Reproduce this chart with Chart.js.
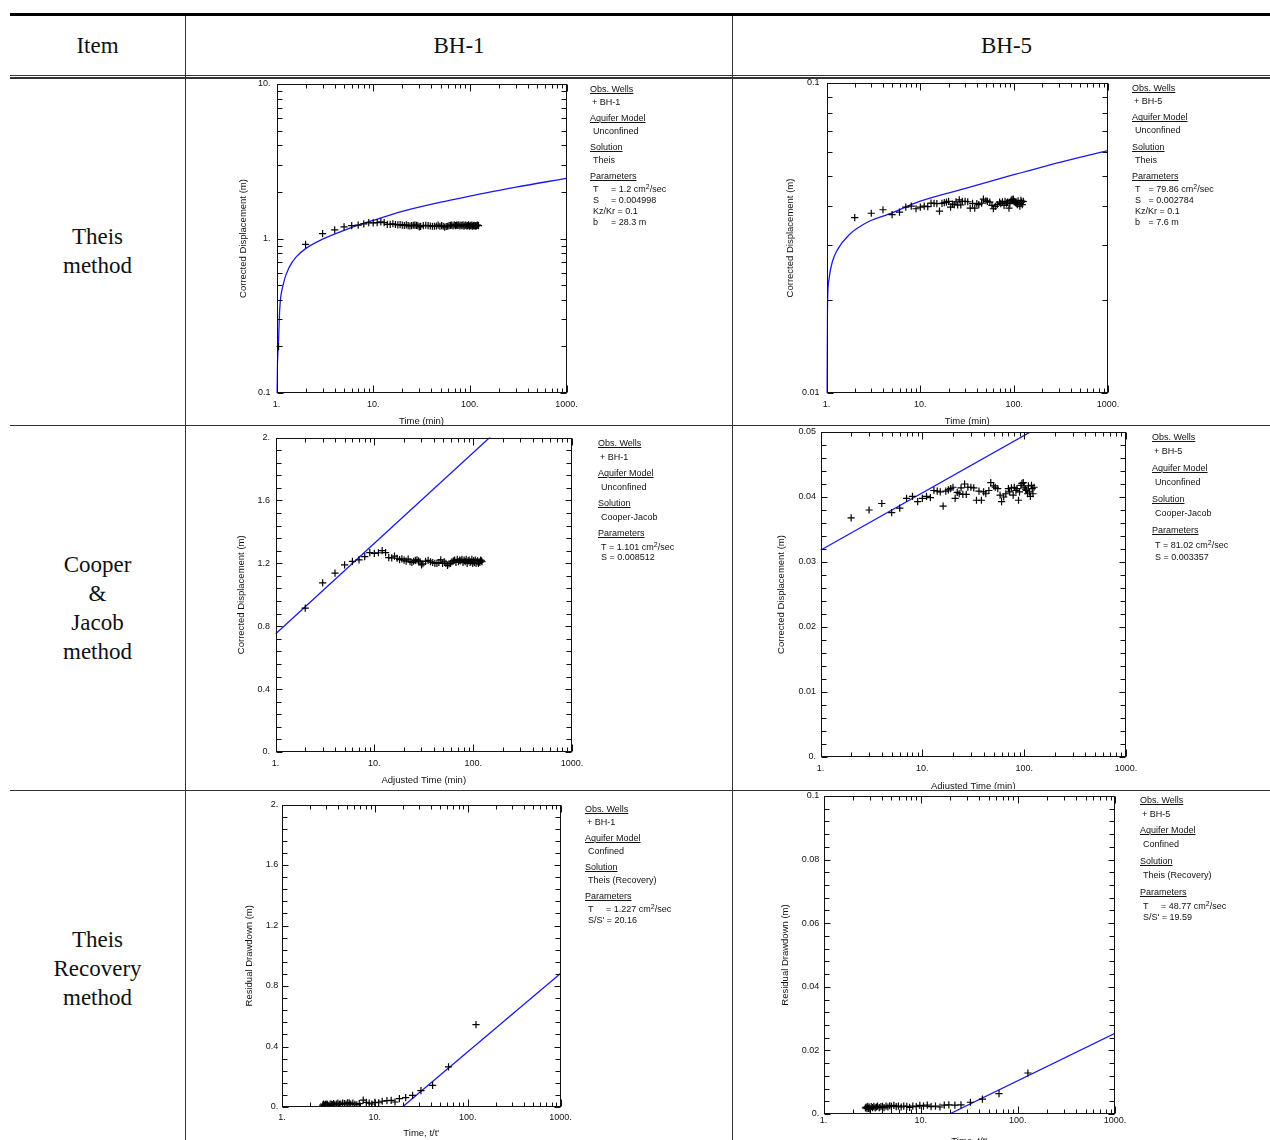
<!DOCTYPE html>
<html>
<head>
<meta charset="utf-8">
<title>Pumping test analysis</title>
<script src="https://cdn.jsdelivr.net/npm/chart.js@4.4.1/dist/chart.umd.min.js"></script>
<style>
  html, body { margin: 0; padding: 0; background: #fff; overflow: hidden; }
  #page { position: relative; width: 1270px; height: 1140px; overflow: hidden; font-family: 'Liberation Sans', Arial, sans-serif; }
  .rule { position: absolute; background: #333; }
  .cell { position: absolute; overflow: hidden; }
  .cell canvas { position: absolute; left: 0; top: -20px; }
  .head { position: absolute; font-family: 'Liberation Serif', 'Times New Roman', serif; font-size: 23px; line-height: 29px; color: #111; text-align: center; }
  .lg { position: absolute; font-size: 9px; line-height: 11px; color: #111; white-space: nowrap; }
  .lg u { text-decoration: underline; }
  .lg sup { font-size: 7px; vertical-align: 3px; line-height: 0; }
  .sym { display: inline-block; padding-right: 2.5px; }
</style>
</head>
<body>
<div id="page">
  <div class="head" style="left:10px; width:175px; top:31px;">Item</div>
  <div class="head" style="left:185px; width:548px; top:31px;">BH-1</div>
  <div class="head" style="left:733px; width:547px; top:31px;">BH-5</div>

  <div class="head" style="left:10px; width:175px; top:222px;">Theis<br>method</div>
  <div class="head" style="left:10px; width:175px; top:550px;">Cooper<br>&amp;<br>Jacob<br>method</div>
  <div class="head" style="left:10px; width:175px; top:925px;">Theis<br>Recovery<br>method</div>

  <div class="cell" style="left:186px; top:79px; width:546px; height:346px;"><canvas id="c1"></canvas></div>
  <div class="cell" style="left:734px; top:79px; width:536px; height:346px;"><canvas id="c2"></canvas></div>
  <div class="cell" style="left:186px; top:427px; width:546px; height:362px;"><canvas id="c3"></canvas></div>
  <div class="cell" style="left:734px; top:427px; width:536px; height:362px;"><canvas id="c4"></canvas></div>
  <div class="cell" style="left:186px; top:791px; width:546px; height:349px;"><canvas id="c5"></canvas></div>
  <div class="cell" style="left:734px; top:791px; width:536px; height:349px;"><canvas id="c6"></canvas></div>

  <div id="legends"></div>

  <div class="rule" style="left:10px; top:13px; width:1260px; height:3px; background:#000;"></div>
  <div class="rule" style="left:10px; top:74.6px; width:1260px; height:1.4px;"></div>
  <div class="rule" style="left:10px; top:77.4px; width:1260px; height:1.4px;"></div>
  <div class="rule" style="left:10px; top:425px; width:1260px; height:1.2px;"></div>
  <div class="rule" style="left:10px; top:789.5px; width:1260px; height:1.2px;"></div>
  <div class="rule" style="left:184.8px; top:16px; width:1.2px; height:1124px;"></div>
  <div class="rule" style="left:732.3px; top:16px; width:1.2px; height:1124px;"></div>
</div>

<script>
// ---- axis ticks ----
const timeMajor = [1, 10, 100, 1000];
const timeLabels = ['1.', '10.', '100.', '1000.'];
const timeMinor = [2, 3, 4, 5, 6, 7, 8, 9, 20, 30, 40, 50, 60, 70, 80, 90, 200, 300, 400, 500, 600, 700, 800, 900];

const logBh1Major = [0.1, 1, 10];
const logBh1Labels = ['0.1', '1.', '10.'];
const logBh1Minor = [0.2, 0.3, 0.4, 0.5, 0.6, 0.7, 0.8, 0.9, 2, 3, 4, 5, 6, 7, 8, 9];

const logBh5Major = [0.01, 0.1];
const logBh5Labels = ['0.01', '0.1'];
const logBh5Minor = [0.02, 0.03, 0.04, 0.05, 0.06, 0.07, 0.08, 0.09];

const linMajor = [0, 0.4, 0.8, 1.2, 1.6, 2];
const linLabels = ['0.', '0.4', '0.8', '1.2', '1.6', '2.'];
const linMinor = [0.08, 0.16, 0.24, 0.32, 0.48, 0.56, 0.64, 0.72, 0.88, 0.96, 1.04, 1.12, 1.28, 1.36, 1.44, 1.52, 1.68, 1.76, 1.84, 1.92];

const cjBh5Major = [0, 0.01, 0.02, 0.03, 0.04, 0.05];
const cjBh5Labels = ['0.', '0.01', '0.02', '0.03', '0.04', '0.05'];
const cjBh5Minor = [0.002, 0.004, 0.006, 0.008, 0.012, 0.014, 0.016, 0.018, 0.022, 0.024, 0.026, 0.028, 0.032, 0.034, 0.036, 0.038, 0.042, 0.044, 0.046, 0.048];

const recBh5Major = [0, 0.02, 0.04, 0.06, 0.08, 0.1];
const recBh5Labels = ['0.', '0.02', '0.04', '0.06', '0.08', '0.1'];
const recBh5Minor = [0.004, 0.008, 0.012, 0.016, 0.024, 0.028, 0.032, 0.036, 0.044, 0.048, 0.052, 0.056, 0.064, 0.068, 0.072, 0.076, 0.084, 0.088, 0.092, 0.096];

// ---- observations ----
const bh1EarlyTime = [1.05];
const bh1EarlyDisp = [0.2];
const bh1Time = [2, 3, 4, 5, 6, 7, 8, 9, 10, 11, 12, 13, 14, 15, 16, 17, 18, 19, 20, 21, 22, 23, 24, 25, 26, 27, 28, 29, 30, 31,
  33, 35, 37, 39, 41, 43, 45, 47, 49,
  51, 53, 55, 57, 59, 61, 63, 65, 67, 69,
  71, 73, 75, 77, 79, 81, 83, 85, 87, 89,
  91, 93, 95, 97, 99, 101, 103, 105, 107, 109,
  111, 113, 115, 117, 119, 121, 123];
const bh1Disp = [0.915, 1.075, 1.137, 1.19, 1.212, 1.222, 1.242, 1.268, 1.263,
  1.267, 1.28, 1.268, 1.236, 1.234, 1.246, 1.232, 1.224, 1.228, 1.22,
  1.214, 1.226, 1.21, 1.205, 1.213, 1.218, 1.222, 1.215, 1.21, 1.19, 1.197,
  1.212, 1.218, 1.21, 1.205, 1.2, 1.2, 1.205, 1.222, 1.2,
  1.21, 1.2, 1.186, 1.196, 1.2, 1.21, 1.215, 1.22, 1.205, 1.225,
  1.21, 1.22, 1.215, 1.225, 1.205, 1.22, 1.21, 1.225, 1.2, 1.215,
  1.22, 1.205, 1.21, 1.225, 1.2, 1.215, 1.205, 1.22, 1.2, 1.21,
  1.215, 1.2, 1.21, 1.205, 1.22, 1.215, 1.21];

const bh5Time = [2, 3, 4, 5, 6, 7, 8, 9, 10, 11, 12, 13, 14, 15, 16, 17, 18, 19, 20, 21, 22, 23, 24, 25, 26, 27, 28,
  30, 32, 34, 36, 38, 40, 42, 45, 47, 50, 52, 55, 58, 60, 63, 66,
  70, 72, 75, 78, 80, 83, 85, 88, 90,
  93, 95, 98, 100, 103, 105, 108, 110, 113, 115, 118, 120, 122, 125];
const bh5Disp = [0.0368, 0.038, 0.039, 0.0376, 0.0383, 0.0398, 0.0401, 0.0393, 0.0398, 0.0401, 0.0399, 0.041, 0.0409, 0.0408,
  0.0386, 0.0409, 0.0411, 0.0413, 0.0415, 0.0398, 0.0407, 0.0405, 0.0414, 0.0404, 0.042, 0.0404, 0.0415,
  0.0415, 0.0414, 0.0395, 0.0409, 0.0395, 0.0408, 0.0405, 0.041, 0.0422, 0.0417, 0.0415, 0.0413, 0.0403, 0.0393, 0.04, 0.0405,
  0.0413, 0.0408, 0.0414, 0.0403, 0.0415, 0.041, 0.0413, 0.0395, 0.0408,
  0.0418, 0.0421, 0.0422, 0.0415, 0.0412, 0.041, 0.0405, 0.0417, 0.0408, 0.0401, 0.0418, 0.0413, 0.0405, 0.0415];

const rec1Time = [2.75, 2.8, 2.85, 2.9, 2.95, 3.0, 3.05, 3.1, 3.2, 3.3, 3.4, 3.5, 3.6, 3.7, 3.85,
  4.0, 4.15, 4.3, 4.5, 4.7, 4.9, 5.1, 5.3, 5.5, 5.8, 6.1, 6.4, 6.8, 7.5, 8.1,
  8.7, 9.3, 10.0, 11.0, 12.0, 13.5, 15.0, 16.5, 18.4, 21.5, 25.5, 31.4, 41.9, 62.2, 123];
const rec1Draw = [0.012, 0.02, 0.01, 0.015, 0.018, 0.012, 0.02, 0.015, 0.01, 0.02, 0.018, 0.015, 0.022, 0.015, 0.02,
  0.025, 0.018, 0.02, 0.025, 0.022, 0.02, 0.028, 0.025, 0.02, 0.025, 0.018, 0.015, 0.022, 0.045, 0.03,
  0.025, 0.02, 0.03, 0.028, 0.038, 0.042, 0.044, 0.033, 0.055, 0.062, 0.077, 0.108, 0.143, 0.265, 0.545];

const rec5Time = [2.7, 2.75, 2.8, 2.85, 2.9, 2.95, 3.0, 3.1, 3.2, 3.3, 3.4, 3.5, 3.6, 3.75, 3.9,
  4.05, 4.2, 4.4, 4.6, 4.8, 5.0, 5.3, 5.6, 5.9, 6.3, 6.7, 7.2, 7.7, 8.3, 9.0,
  9.8, 10.7, 11.7, 12.8, 14.2, 15.8, 17.5, 19.5, 22.5, 26, 32.5, 43.2, 64, 127];
const rec5Draw = [0.0019, 0.0022, 0.0017, 0.0024, 0.0018, 0.0022, 0.0016, 0.0023, 0.002, 0.0024, 0.0019, 0.0022, 0.0025, 0.002, 0.0023,
  0.0024, 0.002, 0.0025, 0.0022, 0.0026, 0.0024, 0.0027, 0.0023, 0.0025, 0.0022, 0.0025, 0.0024, 0.0021, 0.0025, 0.0023,
  0.0027, 0.0025, 0.0028, 0.0023, 0.0025, 0.0022, 0.0028, 0.0029, 0.0028, 0.0029, 0.0037, 0.0047, 0.0064, 0.0129];

// ---- fitted curves ----
const theis1CurveT = [1.003, 1.02, 1.05, 1.08, 1.17, 1.37, 1.6, 2, 3, 5, 7, 10, 20, 50, 100, 300, 1000];
const theis1CurveS = [0.1, 0.15, 0.22, 0.35, 0.5, 0.66, 0.76, 0.86, 0.99, 1.13, 1.22, 1.31, 1.5, 1.72, 1.88, 2.15, 2.45];
const theis5CurveT = [1.002, 1.025, 1.068, 1.159, 1.31, 1.745, 2.85, 4.66, 9.83, 31, 99, 315, 1000];
const theis5CurveS = [0.01, 0.0193, 0.0235, 0.0266, 0.029, 0.0324, 0.0358, 0.0378, 0.0415, 0.0458, 0.0506, 0.0556, 0.0605];
const cj1LineT = [1, 1000];
const cj1LineS = [0.75, 2.48];
const cj5LineT = [1, 1000];
const cj5LineS = [0.0318, 0.0583];
const rec1LineT = [19.8, 1000];
const rec1LineS = [0, 0.882];
const rec5LineT = [19.8, 1000];
const rec5LineS = [0, 0.0254];

Chart.defaults.font.family = "'Liberation Sans', Arial, sans-serif";
Chart.defaults.font.size = 9;
Chart.defaults.color = '#111';

const toPoints = (xs, ys) => xs.map((x, i) => ({ x: x, y: ys[i] }));

// frame with inward ticks on all four sides
const boxTicks = {
  id: 'boxTicks',
  afterDatasetsDraw(chart, args, opts) {
    const { ctx, chartArea: a } = chart;
    const sx = chart.scales.x, sy = chart.scales.y;
    const L = Math.round(a.left) + 0.5, R = Math.round(a.right) - 0.5;
    const T = Math.round(a.top) + 0.5, B = Math.round(a.bottom) - 0.5;
    ctx.save();
    ctx.strokeStyle = '#111';
    ctx.lineWidth = 1;
    ctx.strokeRect(L, T, R - L, B - T);
    ctx.beginPath();
    const xTick = (v, len) => {
      const px = Math.round(sx.getPixelForValue(v)) + 0.5;
      ctx.moveTo(px, T); ctx.lineTo(px, T + len);
      ctx.moveTo(px, B); ctx.lineTo(px, B - len);
    };
    const yTick = (v, len) => {
      const py = Math.round(sy.getPixelForValue(v)) + 0.5;
      ctx.moveTo(L, py); ctx.lineTo(L + len, py);
      ctx.moveTo(R, py); ctx.lineTo(R - len, py);
    };
    opts.xMajor.forEach(v => xTick(v, 7));
    opts.xMinor.forEach(v => xTick(v, 4));
    opts.yMajor.forEach(v => yTick(v, 6));
    opts.yMinor.forEach(v => yTick(v, 5));
    ctx.stroke();
    ctx.restore();
  }
};

const specs = [
  { id: 'c1', cell: [186, 79, 546, 346], area: [276.5, 84, 566.5, 393],
    yType: 'logarithmic', yMin: 0.1, yMax: 10, yMajor: logBh1Major, yLabels: logBh1Labels, yMinor: logBh1Minor,
    obs: toPoints(bh1EarlyTime.concat(bh1Time), bh1EarlyDisp.concat(bh1Disp)), fit: toPoints(theis1CurveT, theis1CurveS), smooth: true,
    yTitle: 'Corrected Displacement (m)', xTitle: 'Time (min)', yTitleX: 243, xTitleY: 421, yPad: 6, xPad: 6.3 },
  { id: 'c2', cell: [734, 79, 536, 346], area: [826.5, 83, 1108, 393],
    yType: 'logarithmic', yMin: 0.01, yMax: 0.1, yMajor: logBh5Major, yLabels: logBh5Labels, yMinor: logBh5Minor,
    obs: toPoints(bh5Time, bh5Disp), fit: toPoints(theis5CurveT, theis5CurveS), smooth: true,
    yTitle: 'Corrected Displacement (m)', xTitle: 'Time (min)', yTitleX: 790, xTitleY: 421, yPad: 7, xPad: 6.3 },
  { id: 'c3', cell: [186, 427, 546, 362], area: [275.5, 437.5, 572, 752],
    yType: 'linear', yMin: 0, yMax: 2, yMajor: linMajor, yLabels: linLabels, yMinor: linMinor,
    obs: toPoints(bh1Time, bh1Disp), fit: toPoints(cj1LineT, cj1LineS), smooth: false,
    yTitle: 'Corrected Displacement (m)', xTitle: 'Adjusted Time (min)', yTitleX: 241, xTitleY: 780, yPad: 5.5, xPad: 6.3 },
  { id: 'c4', cell: [734, 427, 536, 362], area: [820.5, 432, 1126, 757],
    yType: 'linear', yMin: 0, yMax: 0.05, yMajor: cjBh5Major, yLabels: cjBh5Labels, yMinor: cjBh5Minor,
    obs: toPoints(bh5Time, bh5Disp), fit: toPoints(cj5LineT, cj5LineS), smooth: false,
    yTitle: 'Corrected Displacement (m)', xTitle: 'Adjusted Time (min)', yTitleX: 781, xTitleY: 786, yPad: 4.5, xPad: 6.3 },
  { id: 'c5', cell: [186, 791, 546, 349], area: [282, 804.5, 560.5, 1107],
    yType: 'linear', yMin: 0, yMax: 2, yMajor: linMajor, yLabels: linLabels, yMinor: linMinor,
    obs: toPoints(rec1Time, rec1Draw), fit: toPoints(rec1LineT, rec1LineS), smooth: false,
    yTitle: 'Residual Drawdown (m)', xTitle: "Time, t/t'", yTitleX: 249, xTitleY: 1133, yPad: 3.7, xPad: 5.6 },
  { id: 'c6', cell: [734, 791, 536, 349], area: [823.5, 796, 1115, 1114],
    yType: 'linear', yMin: 0, yMax: 0.1, yMajor: recBh5Major, yLabels: recBh5Labels, yMinor: recBh5Minor,
    obs: toPoints(rec5Time, rec5Draw), fit: toPoints(rec5LineT, rec5LineS), smooth: false,
    yTitle: 'Residual Drawdown (m)', xTitle: "Time, t/t'", yTitleX: 785, xTitleY: 1141, yPad: 4.2, xPad: 1 }
];

const TITLE_SIZE = 9.5;
const halfLine = TITLE_SIZE * 1.2 / 2;

function makeChart(s) {
  const canvas = document.getElementById(s.id);
  const [cx, cy, cw, ch] = s.cell;
  const [l, t, r, b] = s.area;
  const top0 = cy - 20;
  const height = ch + 60;
  canvas.width = cw;
  canvas.height = height;
  const yW = l - s.yTitleX + halfLine;
  const xH = s.xTitleY - b + halfLine;
  const padding = {
    left: l - cx - yW,
    top: t - top0,
    right: cx + cw - r,
    bottom: top0 + height - b - xH
  };
  return new Chart(canvas, {
    type: 'scatter',
    data: {
      datasets: [
        { data: s.obs, showLine: false, pointStyle: 'cross', pointRadius: 3.6, pointBorderWidth: 1.2,
          borderColor: '#000', backgroundColor: '#000' },
        { data: s.fit, showLine: true, pointRadius: 0, borderColor: 'rgb(25,25,235)', borderWidth: 1.3,
          cubicInterpolationMode: s.smooth ? 'monotone' : 'default', tension: 0 }
      ]
    },
    options: {
      responsive: false,
      animation: false,
      events: [],
      layout: { padding: padding },
      plugins: {
        legend: { display: false },
        tooltip: { enabled: false },
        boxTicks: { xMajor: timeMajor, xMinor: timeMinor, yMajor: s.yMajor, yMinor: s.yMinor }
      },
      scales: {
        x: {
          type: 'logarithmic', position: 'bottom', min: 1, max: 1000,
          grid: { display: false, drawTicks: false },
          border: { display: false },
          afterBuildTicks: axis => { axis.ticks = timeMajor.map(v => ({ value: v })); },
          afterFit: axis => { axis.height = xH; },
          ticks: { autoSkip: false, maxRotation: 0, padding: s.xPad, color: '#111',
            callback: (v, i) => timeLabels[i] },
          title: { display: true, text: s.xTitle, padding: 0, color: '#111', font: { size: TITLE_SIZE } }
        },
        y: {
          type: s.yType, position: 'left', min: s.yMin, max: s.yMax,
          grid: { display: false, drawTicks: false },
          border: { display: false },
          afterBuildTicks: axis => { axis.ticks = s.yMajor.map(v => ({ value: v })); },
          afterFit: axis => { axis.width = yW; },
          ticks: { autoSkip: false, padding: s.yPad, color: '#111',
            callback: (v, i) => s.yLabels[i] },
          title: { display: true, text: s.yTitle, padding: 0, color: '#111', font: { size: TITLE_SIZE } }
        }
      }
    },
    plugins: [boxTicks]
  });
}

specs.forEach(makeChart);

// ---- legend text boxes ----
const legends = [
  { x: 590, y: 89, head: 13, group: 29.3, param: 11, symW: 15.5, well: 'BH-1', model: 'Unconfined', solution: 'Theis',
    params: [['T', '= 1.2 cm<sup>2</sup>/sec'], ['S', '= 0.004998'], ['Kz/Kr', '= 0.1'], ['b', '= 28.3 m']] },
  { x: 1132, y: 88.5, head: 13, group: 29.4, param: 11, symW: 11, well: 'BH-5', model: 'Unconfined', solution: 'Theis',
    params: [['T', '= 79.86 cm<sup>2</sup>/sec'], ['S', '= 0.002784'], ['Kz/Kr', '= 0.1'], ['b', '= 7.6 m']] },
  { x: 598, y: 443, head: 14, group: 30, param: 10.5, symW: 0, well: 'BH-1', model: 'Unconfined', solution: 'Cooper-Jacob',
    params: [['T', '= 1.101 cm<sup>2</sup>/sec'], ['S', '= 0.008512']] },
  { x: 1152, y: 437, head: 14.3, group: 31.3, param: 12, symW: 0, well: 'BH-5', model: 'Unconfined', solution: 'Cooper-Jacob',
    params: [['T', '= 81.02 cm<sup>2</sup>/sec'], ['S', '= 0.003357']] },
  { x: 585, y: 809, head: 13.2, group: 29, param: 11, symW: 15.5, well: 'BH-1', model: 'Confined', solution: 'Theis (Recovery)',
    params: [['T', '= 1.227 cm<sup>2</sup>/sec'], ["S/S'", '= 20.16']] },
  { x: 1140, y: 800, head: 14, group: 30.7, param: 11, symW: 15.5, well: 'BH-5', model: 'Confined', solution: 'Theis (Recovery)',
    params: [['T', '= 48.77 cm<sup>2</sup>/sec'], ["S/S'", '= 19.59']] }
];

const legendBox = document.getElementById('legends');
const addLine = (x, yc, html) => {
  const d = document.createElement('div');
  d.className = 'lg';
  d.style.left = x + 'px';
  d.style.top = (yc - 5.5) + 'px';
  d.innerHTML = html;
  legendBox.appendChild(d);
};

legends.forEach(g => {
  const heads = ['Obs. Wells', 'Aquifer Model', 'Solution', 'Parameters'];
  const items = ['+ ' + g.well, g.model, g.solution];
  heads.forEach((h, k) => {
    const hy = g.y + k * g.group;
    addLine(g.x, hy, '<u>' + h + '</u>');
    if (k < 3) {
      addLine(g.x + (k === 0 ? 2 : 3), hy + g.head, items[k]);
    } else {
      g.params.forEach((p, j) => {
        addLine(g.x + 3, hy + g.head + j * g.param,
          '<span class="sym" style="min-width:' + g.symW + 'px">' + p[0] + '</span>' + p[1]);
      });
    }
  });
});
</script>
</body>
</html>
